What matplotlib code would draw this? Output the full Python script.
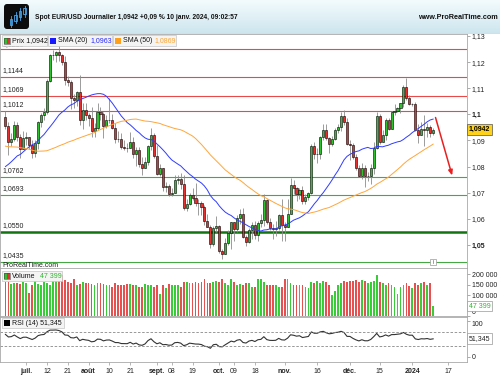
import numpy as np
import pandas as pd
import matplotlib
matplotlib.use('Agg')
import matplotlib.pyplot as plt
import matplotlib.transforms as mtransforms
from matplotlib.colors import LinearSegmentedColormap
from matplotlib.patches import Rectangle, FancyBboxPatch

plt.rcParams['font.family'] = ['Liberation Sans', 'DejaVu Sans']
plt.rcParams['font.size'] = 5

# closes avant le graphique (12 avril - 21 juin 2023), pour les moyennes et le RSI
warm_close = [1.0990, 1.1047, 1.0993, 1.0926, 1.0970, 1.0955, 1.0966, 1.0990, 1.1048, 1.0975,
              1.1042, 1.1028, 1.1020, 1.0975, 1.0995, 1.1073, 1.1010, 1.1019, 1.1006, 1.0960,
              1.0982, 1.0915, 1.0850, 1.0874, 1.0862, 1.0837, 1.0770, 1.0805, 1.0813, 1.0771,
              1.0752, 1.0725, 1.0722, 1.0705, 1.0735, 1.0689, 1.0762, 1.0708, 1.0713, 1.0693,
              1.0698, 1.0781, 1.0749, 1.0753, 1.0792, 1.0832, 1.0945, 1.0940, 1.0923, 1.0918,
              1.0990]

# 22 juin 2023 -> 10 janv. 2024 (jours ouvres)
opens = [1.0990, 1.0955, 1.0894, 1.0905, 1.0960, 1.0912, 1.0868,
         1.0910, 1.0912, 1.0881, 1.0851, 1.0889, 1.0969, 1.0998, 1.1010, 1.1128, 1.1227, 1.1228,
         1.1237, 1.1226, 1.1200, 1.1130, 1.1124, 1.1063, 1.1055, 1.1086, 1.0978, 1.1018,
         1.0998, 1.0985, 1.0937, 1.0949, 1.1008, 1.1002, 1.0957, 1.0977, 1.0980, 1.0948, 1.0905,
         1.0904, 1.0875, 1.0872, 1.0871, 1.0894, 1.0847, 1.0863, 1.0810, 1.0796, 1.0818, 1.0880,
         1.0920,
         1.0842, 1.0773, 1.0795, 1.0721, 1.0726, 1.0697, 1.0700, 1.0747, 1.0753, 1.0732, 1.0642,
         1.0658, 1.0691, 1.0678, 1.0662, 1.0660, 1.0645, 1.0590, 1.0570, 1.0502, 1.0565,
         1.0573, 1.0477, 1.0467, 1.0507, 1.0547, 1.0588, 1.0563, 1.0605, 1.0619, 1.0529, 1.0510,
         1.0558, 1.0575, 1.0540, 1.0585, 1.0594, 1.0671, 1.0589, 1.0565, 1.0562, 1.0566, 1.0616,
         1.0576, 1.0570, 1.0619, 1.0730, 1.0719, 1.0697, 1.0711, 1.0668, 1.0685, 1.0700, 1.0880,
         1.0848, 1.0849, 1.0914, 1.0941, 1.0910, 1.0887, 1.0904, 1.0939, 1.0953, 1.0993, 1.0970,
         1.0886, 1.0884, 1.0836, 1.0795, 1.0763, 1.0793, 1.0763, 1.0763, 1.0794, 1.0871, 1.0993,
         1.0896, 1.0922, 1.0980, 1.0945, 1.1010, 1.1012, 1.1025, 1.1042, 1.1105, 1.1062,
         1.1039, 1.1040, 1.0941, 1.0922, 1.0944, 1.0940, 1.0950, 1.0930]
highs = [1.1012, 1.0971, 1.0930, 1.0976, 1.0972, 1.0924, 1.0935,
         1.0934, 1.0912, 1.0903, 1.0902, 1.0975, 1.1004, 1.1026, 1.1137, 1.1230, 1.1245, 1.1244,
         1.1276, 1.1232, 1.1224, 1.1146, 1.1130, 1.1078, 1.1089, 1.1149, 1.1043, 1.1045,
         1.1004, 1.1030, 1.0967, 1.1042, 1.1029, 1.1010, 1.0999, 1.1064, 1.1000, 1.0966, 1.0936,
         1.0930, 1.0900, 1.0891, 1.0933, 1.0912, 1.0874, 1.0875, 1.0837, 1.0837, 1.0882, 1.0946,
         1.0930,
         1.0882, 1.0810, 1.0796, 1.0740, 1.0732, 1.0717, 1.0767, 1.0768, 1.0774, 1.0768, 1.0675,
         1.0699, 1.0718, 1.0737, 1.0675, 1.0670, 1.0654, 1.0618, 1.0576, 1.0574, 1.0610,
         1.0578, 1.0486, 1.0525, 1.0556, 1.0589, 1.0588, 1.0613, 1.0637, 1.0640, 1.0537, 1.0565,
         1.0587, 1.0590, 1.0590, 1.0617, 1.0695, 1.0675, 1.0604, 1.0580, 1.0593, 1.0620, 1.0675,
         1.0588, 1.0676, 1.0756, 1.0748, 1.0723, 1.0720, 1.0724, 1.0696, 1.0703, 1.0887, 1.0895,
         1.0872, 1.0917, 1.0965, 1.0965, 1.0914, 1.0917, 1.0949, 1.0964, 1.1010, 1.1017, 1.0986,
         1.0902, 1.0892, 1.0850, 1.0807, 1.0812, 1.0806, 1.0779, 1.0810, 1.0894, 1.1008, 1.1000,
         1.0939, 1.0986, 1.0988, 1.1014, 1.1040, 1.1030, 1.1045, 1.1112, 1.1140, 1.1075,
         1.1045, 1.1046, 1.0963, 1.0969, 1.0998, 1.0966, 1.0960, 1.0948]
lows = [1.0945, 1.0844, 1.0880, 1.0898, 1.0897, 1.0834, 1.0866,
        1.0883, 1.0866, 1.0833, 1.0835, 1.0869, 1.0950, 1.0980, 1.1002, 1.1124, 1.1210, 1.1202,
        1.1203, 1.1189, 1.1114, 1.1110, 1.1020, 1.1024, 1.1033, 1.0961, 1.0944, 1.0980,
        1.0957, 1.0912, 1.0912, 1.0942, 1.0980, 1.0910, 1.0947, 1.0967, 1.0945, 1.0890, 1.0894,
        1.0866, 1.0862, 1.0855, 1.0871, 1.0834, 1.0802, 1.0800, 1.0766, 1.0793, 1.0807, 1.0863,
        1.0833,
        1.0768, 1.0765, 1.0705, 1.0703, 1.0686, 1.0687, 1.0699, 1.0735, 1.0715, 1.0632, 1.0631,
        1.0653, 1.0673, 1.0651, 1.0616, 1.0615, 1.0576, 1.0569, 1.0488, 1.0496, 1.0549,
        1.0469, 1.0448, 1.0465, 1.0501, 1.0484, 1.0515, 1.0550, 1.0581, 1.0525, 1.0496, 1.0509,
        1.0523, 1.0524, 1.0515, 1.0570, 1.0572, 1.0579, 1.0556, 1.0524, 1.0535, 1.0556, 1.0516,
        1.0516, 1.0567, 1.0617, 1.0697, 1.0667, 1.0676, 1.0656, 1.0655, 1.0672, 1.0695, 1.0828,
        1.0813, 1.0829, 1.0902, 1.0900, 1.0852, 1.0880, 1.0900, 1.0930, 1.0937, 1.0960, 1.0881,
        1.0827, 1.0829, 1.0786, 1.0760, 1.0754, 1.0723, 1.0743, 1.0733, 1.0773, 1.0866, 1.0888,
        1.0894, 1.0901, 1.0940, 1.0943, 1.0998, 1.1010, 1.1005, 1.1030, 1.1054, 1.1035,
        1.1032, 1.0938, 1.0892, 1.0922, 1.0877, 1.0912, 1.0914, 1.0920]
closes = [1.0955, 1.0894, 1.0905, 1.0960, 1.0912, 1.0868, 1.0910,
          1.0912, 1.0881, 1.0851, 1.0889, 1.0969, 1.0998, 1.1010, 1.1128, 1.1227, 1.1228, 1.1237,
          1.1226, 1.1200, 1.1130, 1.1124, 1.1063, 1.1055, 1.1086, 1.0978, 1.1018, 1.0998,
          1.0985, 1.0937, 1.0949, 1.1008, 1.1002, 1.0957, 1.0977, 1.0980, 1.0948, 1.0905, 1.0904,
          1.0875, 1.0872, 1.0871, 1.0894, 1.0847, 1.0863, 1.0810, 1.0796, 1.0818, 1.0880, 1.0920,
          1.0842,
          1.0773, 1.0795, 1.0721, 1.0726, 1.0697, 1.0700, 1.0747, 1.0753, 1.0732, 1.0642, 1.0658,
          1.0691, 1.0678, 1.0662, 1.0660, 1.0645, 1.0590, 1.0570, 1.0502, 1.0565, 1.0573,
          1.0477, 1.0467, 1.0507, 1.0547, 1.0588, 1.0563, 1.0605, 1.0619, 1.0529, 1.0510, 1.0558,
          1.0575, 1.0540, 1.0585, 1.0594, 1.0671, 1.0589, 1.0565, 1.0562, 1.0566, 1.0616, 1.0576,
          1.0570, 1.0619, 1.0730, 1.0719, 1.0697, 1.0711, 1.0668, 1.0685, 1.0700, 1.0880, 1.0848,
          1.0849, 1.0914, 1.0941, 1.0910, 1.0887, 1.0904, 1.0939, 1.0953, 1.0993, 1.0970, 1.0886,
          1.0884, 1.0836, 1.0795, 1.0763, 1.0793, 1.0763, 1.0763, 1.0794, 1.0871, 1.0993, 1.0896,
          1.0922, 1.0980, 1.0945, 1.1010, 1.1012, 1.1025, 1.1042, 1.1105, 1.1062, 1.1039,
          1.1040, 1.0941, 1.0922, 1.0944, 1.0940, 1.0950, 1.0930, 1.0942]
volumes_k = [160, 162, 152, 158, 158, 153, 162,
             158, 108, 150, 165, 153, 150, 162, 158, 148, 165, 178, 188, 197, 170, 163, 158, 175,
             150, 153, 163, 158,
             158, 153, 147, 158, 158, 153, 150, 150, 140, 158, 150, 147, 147, 153, 153, 147, 147,
             137, 137, 153, 147, 147, 137,
             147, 105, 147, 135, 153, 147, 147, 147, 137, 163, 163, 158, 158, 163, 158, 163, 175,
             158, 158, 163, 166,
             163, 175, 158, 150, 175, 160, 147, 153, 150, 155, 158, 137, 140, 175, 175, 160, 150,
             150, 147, 150, 137, 137,
             175, 175, 158, 147, 147, 150, 150, 137, 133, 160, 158, 165, 158, 165, 160, 150, 100,
             120, 147, 158, 165, 163,
             168, 165, 170, 163, 172, 165, 155, 160, 165, 195, 160, 158, 150, 158, 147, 140, 105,
             140, 150, 158, 145,
             135, 158, 148, 155, 160, 150, 156, 47.399]

res_levels = [1.1250, 1.1144, 1.1069, 1.1012]
sup_levels = [1.0762, 1.0693, 1.0550, 1.0435]

tick_dates = ['2023-07-03', '2023-07-12', '2023-07-21', '2023-08-01', '2023-08-10', '2023-08-21',
              '2023-09-01', '2023-09-08', '2023-09-19', '2023-10-02', '2023-10-09', '2023-10-18',
              '2023-11-01', '2023-11-16', '2023-12-01', '2023-12-15', '2024-01-01', '2024-01-17']
tick_labels = ['juil.', '12', '21', 'août', '10', '21', 'sept.', '08', '19', 'oct.', '09', '18',
               'nov.', '16', 'déc.', '15', '2024', '17']

GREEN = '#2fbf2f'
RED = '#e53030'

o = np.array(opens); h = np.array(highs); l = np.array(lows); c = np.array(closes)
vol = np.array(volumes_k) * 1000
dates = pd.bdate_range('2023-06-22', '2024-01-10')
assert len(dates) == len(c)
x = np.arange(len(c))

full = pd.Series(warm_close + closes)
n0 = len(warm_close)
sma20 = full.rolling(20).mean().values[n0:]
sma50 = full.rolling(50).mean().values[n0:]
d = full.diff()
gain = d.clip(lower=0).ewm(alpha=1 / 14, adjust=False).mean()
loss = (-d.clip(upper=0)).ewm(alpha=1 / 14, adjust=False).mean()
rsi = (100 - 100 / (1 + gain / loss)).values[n0:]

ext = pd.bdate_range('2023-06-22', '2024-01-31')
tick_pos = [ext.get_loc(pd.Timestamp(t)) for t in tick_dates]

W, H = 500, 375
fig = plt.figure(figsize=(5, 3.75), dpi=100)


def px_axes(x0, y0, x1, y1):
    return fig.add_axes([x0 / W, 1 - y1 / H, (x1 - x0) / W, (y1 - y0) / H])


XL = (-1.83, 155.4)
BORDER = '#a8a8a8'

# --- bandeau titre ---
axt = px_axes(0, 0, 500, 34)
grad = np.linspace(0, 1, 64).reshape(-1, 1)
axt.imshow(grad, cmap=LinearSegmentedColormap.from_list('t', ['#f3fbfd', '#cde5ee']),
           extent=(0, 500, 34, 0), aspect='auto')
axt.set_xlim(0, 500); axt.set_ylim(34, 0); axt.axis('off')
axt.add_patch(FancyBboxPatch((4, 4), 25, 25, boxstyle='round,pad=0,rounding_size=3',
                             fc='#0c0c0c', ec='none'))
for cx, b0, b1, w0, w1 in [(11, 19, 25, 16, 27), (15.5, 15, 21, 12, 23), (20, 11, 17, 8, 20),
                           (24.5, 8, 14, 6, 17)]:
    axt.plot([cx, cx], [w0, w1], color='#4aa8f0', lw=0.6)
    axt.add_patch(Rectangle((cx - 1.3, b0), 2.6, b1 - b0, fc='#0c0c0c', ec='#4aa8f0', lw=0.6))
axt.axhline(33.5, color='#a9bec6', lw=0.8)

# --- prix ---
ax = px_axes(0, 34, 467, 268)
ax.set_xlim(*XL)
ax.set_ylim(1.04118, 1.13077)
colors = np.where(c >= o, GREEN, RED)
ax.vlines(x, l, h, color='#8c8c8c', lw=0.6, zorder=2)
ax.bar(x, np.abs(c - o), bottom=np.minimum(o, c), width=0.7, color=colors,
       edgecolor='black', linewidth=0.4, zorder=3)
ax.plot(x, sma20, color='#2f3cff', lw=0.7, zorder=4)
ax.plot(x, sma50, color='#ffa63a', lw=0.7, zorder=4)

lbl_tr = mtransforms.blended_transform_factory(ax.transAxes, ax.transData)
for lev in res_levels:
    ax.axhline(lev, color='#e84a4a', lw=0.8, zorder=1)
    t = ax.text(0.006, lev + 0.0011, f'{lev:.4f}'.replace('.', ','), transform=lbl_tr,
                fontsize=5, color='#222222', va='bottom')
    if lev == 1.1250:
        t.set_y(lev + 0.0004)
for lev in sup_levels:
    if lev == 1.0550:
        ax.axhline(lev, color='#137313', lw=1.8, zorder=1)
    else:
        ax.axhline(lev, color='#45a845', lw=0.8, zorder=1)
    ax.text(0.006, lev + 0.0011, f'{lev:.4f}'.replace('.', ','), transform=lbl_tr,
            fontsize=5, color='#222222', va='bottom')

ax.annotate('', xy=(150.4, 1.0766), xytext=(144.8, 1.0988),
            arrowprops=dict(arrowstyle='-|>,head_length=0.6,head_width=0.25', color='#e82020',
                            lw=1.1, shrinkA=0, shrinkB=0), zorder=6)

yt = np.round(np.arange(1.05, 1.1301, 0.01), 2)
ax.yaxis.tick_right()
ax.set_yticks(yt)
ax.set_yticklabels([f'{v:.2f}'.rstrip('0').replace('.', ',') for v in yt])
for t, v in zip(ax.get_yticklabels(), yt):
    if v in (1.1, 1.05):
        t.set_fontweight('bold')
ax.text(1.004, 1.0942, '1,0942', transform=lbl_tr, fontsize=5, weight='bold', va='center',
        bbox=dict(boxstyle='square,pad=0.25', fc='#ffd21a', ec='#555555', lw=0.5), zorder=7)

# --- volume ---
axv = px_axes(0, 268, 467, 316)
axv.set_xlim(*XL)
axv.set_ylim(0, 228600)
axv.bar(x, vol, width=0.6, linewidth=0, color=np.where(c >= o, '#38cc38', '#e65050'), zorder=2)
axv.yaxis.tick_right()
axv.set_yticks([0, 100000, 150000, 200000])
axv.set_yticklabels(['0', '100 000', '150 000', '200 000'])
axv.get_yticklabels()[0].set_verticalalignment('bottom')
vtr = mtransforms.blended_transform_factory(axv.transAxes, axv.transData)
axv.text(1.004, 47399, '47 399', transform=vtr, fontsize=5, color='#2fb52f', va='center',
         bbox=dict(boxstyle='square,pad=0.25', fc='white', ec='#999999', lw=0.5), zorder=7)

# --- RSI ---
axr = px_axes(0, 317, 467, 362)
axr.set_xlim(*XL)
axr.set_ylim(-13.9, 111.1)
axr.plot(x, rsi, color='#333333', lw=0.8)
for lev in (70, 30):
    axr.axhline(lev, color='#888888', lw=0.6, ls=(0, (3, 2)))
axr.yaxis.tick_right()
axr.set_yticks([0, 100])
axr.set_yticklabels(['0', '100'])
axr.get_yticklabels()[1].set_verticalalignment('top')
rtr = mtransforms.blended_transform_factory(axr.transAxes, axr.transData)
axr.text(1.004, 51.345, '51,345', transform=rtr, fontsize=5, color='#222222', va='center',
         bbox=dict(boxstyle='square,pad=0.25', fc='white', ec='#999999', lw=0.5), zorder=7)

axr.set_xticks(tick_pos)
axr.set_xticklabels(tick_labels)
for t, lab in zip(axr.get_xticklabels(), tick_labels):
    if not lab.isdigit() or lab == '2024':
        t.set_fontweight('bold')

for a in (ax, axv, axr):
    for s in a.spines.values():
        s.set_color(BORDER)
        s.set_linewidth(0.6)
    a.tick_params(axis='y', which='both', length=2, width=0.5, color='#888888', pad=1.5,
                  labelsize=5, labelcolor='#222222')
for a in (ax, axv):
    a.set_xticks([])
axr.tick_params(axis='x', length=2, width=0.5, color='#999999', pad=2, labelsize=5,
                labelcolor='#222222')

# --- legendes et textes en surimpression ---
ov = fig.add_axes([0, 0, 1, 1], zorder=10)
ov.set_xlim(0, W); ov.set_ylim(H, 0); ov.axis('off'); ov.patch.set_alpha(0)


def leg_box(x0, x1, y0, y1):
    ov.add_patch(Rectangle((x0, y0), x1 - x0, y1 - y0, fc='#f4f4f4', ec='#c4c4c4', lw=0.5))


def split_icon(x0, y0):
    ov.add_patch(Rectangle((x0, y0), 3, 6, fc=GREEN, ec='none'))
    ov.add_patch(Rectangle((x0 + 3, y0), 3, 6, fc=RED, ec='none'))
    ov.add_patch(Rectangle((x0, y0), 6, 6, fc='none', ec='#444444', lw=0.4))


leg_box(2, 47, 35, 46)
split_icon(3.5, 37.5)
ov.text(12, 41, 'Prix 1,0942', fontsize=5, va='center', color='#111111')
leg_box(48, 112, 35, 46)
ov.add_patch(Rectangle((50, 37.5), 6, 6, fc='#1a1aff', ec='none'))
ov.text(58, 41, 'SMA (20)', fontsize=5, va='center', color='#111111')
ov.text(90, 41, '1,0963', fontsize=5, va='center', color='#2626ff')
leg_box(113, 176, 35, 46)
ov.add_patch(Rectangle((114.5, 37.5), 6, 6, fc='#ff9f1a', ec='none'))
ov.text(123, 41, 'SMA (50)', fontsize=5, va='center', color='#111111')
ov.text(154, 41, '1,0869', fontsize=5, va='center', color='#ffa530')

leg_box(2, 62, 271, 281)
split_icon(3.5, 273)
ov.text(12, 276.3, 'Volume', fontsize=5, va='center', color='#111111')
ov.text(40, 276.3, '47 399', fontsize=5, va='center', color='#2fb52f')

leg_box(2, 64, 318, 328)
ov.add_patch(Rectangle((3.5, 320), 6, 6, fc='black', ec='none'))
ov.text(12, 323.3, 'RSI (14) 51,345', fontsize=5, va='center', color='#111111')

ov.text(2, 265.5, 'ProRealTime.com', fontsize=5, va='center', color='#222222')
ov.add_patch(Rectangle((430, 258.5), 6, 6, fc='white', ec='#999999', lw=0.5))
ov.plot([433, 433], [260, 263], color='#777777', lw=0.5)

title = ov.text(35, 17.5, 'Spot EUR/USD Journalier 1,0942 +0,09 % 10 janv. 2024, 09:02:57',
                fontsize=5, weight='bold', va='center', color='#111111')
site = ov.text(498, 17.5, 'www.ProRealTime.com', fontsize=5, weight='bold', va='center',
               ha='right', color='#111111')
fig.canvas.draw()
r = fig.canvas.get_renderer()
for t, target in ((title, 203.0), (site, 81.0)):
    wpx = t.get_window_extent(r).width
    t.set_fontsize(5 * target / wpx)

fig.savefig('out.png', dpi=100)
